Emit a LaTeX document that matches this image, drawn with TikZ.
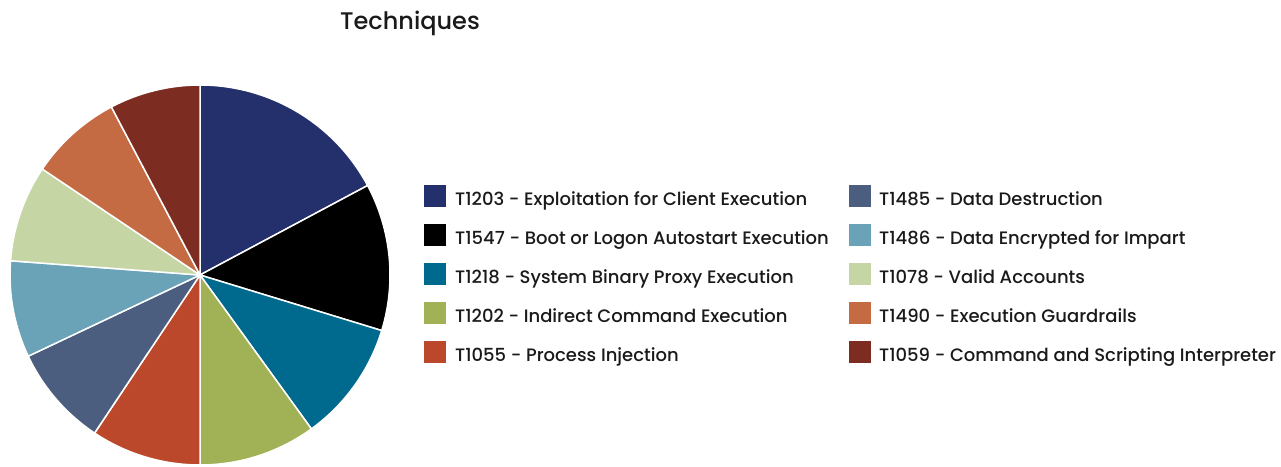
\documentclass[tikz,border=0pt]{standalone}
\usepackage{fontspec}
\setmainfont{Poppins}[UprightFont={* Medium}]
\definecolor{cNavy}{HTML}{24306C}
\definecolor{cBlack}{HTML}{000000}
\definecolor{cTeal}{HTML}{006A8E}
\definecolor{cOlive}{HTML}{A0B255}
\definecolor{cRust}{HTML}{BC482B}
\definecolor{cSlate}{HTML}{4B5E80}
\definecolor{cLBlue}{HTML}{6AA3B8}
\definecolor{cLGreen}{HTML}{C5D5A3}
\definecolor{cOrange}{HTML}{C46B43}
\definecolor{cDRed}{HTML}{7C2C21}
\definecolor{cText}{HTML}{1A1A1A}
\begin{document}
\begin{tikzpicture}[x=1pt,y=1pt,
  slice/.style={draw=white,line width=1.5pt,line join=round},
  swatch/.style={minimum width=22pt,minimum height=22pt,inner sep=0pt,outer sep=0pt},
  legtext/.style={anchor=base west,inner sep=0pt,font=\fontsize{18}{21}\selectfont,text=cText},
  title/.style={font=\fontsize{24}{28}\selectfont,text=cText,inner sep=0pt,anchor=base}]
\useasboundingbox (0,0) rectangle (1281,466);
\fill[white] (0,0) rectangle (1281,466);
\coordinate (c) at (200,191);
\def\R{190}
\foreach \a/\b/\col in {90/28.1/cNavy, 28.1/-17.0/cBlack, -17.0/-54.1/cTeal, -54.1/-90/cOlive, -90/-123.7/cRust, -123.7/-154.7/cSlate, -154.7/-184.3/cLBlue, -184.3/-213.9/cLGreen, -213.9/-242.2/cOrange, -242.2/-270/cDRed}{
  \filldraw[slice,fill=\col] (c) -- ++(\a:\R) arc[start angle=\a,end angle=\b,radius=\R] -- cycle;
}
\node[title] (ttl) at (410,436) {Techniques};
% legend left column
\foreach \i/\y/\col/\txt in {1/270/cNavy/T1203 - Exploitation for Client Execution,
  2/231/cBlack/T1547 - Boot or Logon Autostart Execution,
  3/192/cTeal/T1218 - System Binary Proxy Execution,
  4/153/cOlive/T1202 - Indirect Command Execution,
  5/114/cRust/T1055 - Process Injection}{
  \node[swatch,fill=\col] (sl\i) at (435,\y) {};
  \node[legtext] (tl\i) at (455,\y-9.5) {\txt};
}
\foreach \i/\y/\col/\txt in {1/270/cSlate/T1485 - Data Destruction,
  2/231/cLBlue/T1486 - Data Encrypted for Impart,
  3/192/cLGreen/T1078 - Valid Accounts,
  4/153/cOrange/T1490 - Execution Guardrails,
  5/114/cDRed/T1059 - Command and Scripting Interpreter}{
  \node[swatch,fill=\col] (sr\i) at (860,\y) {};
  \node[legtext] (tr\i) at (879,\y-9.5) {\txt};
}
\end{tikzpicture}
\end{document}
